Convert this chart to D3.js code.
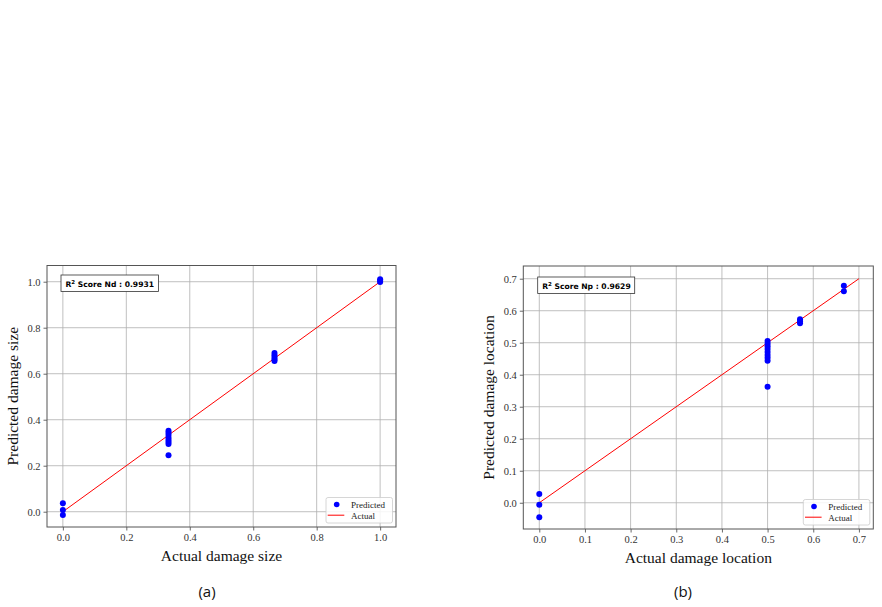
<!DOCTYPE html>
<html>
<head>
<meta charset="utf-8">
<script src="https://cdn.jsdelivr.net/npm/d3@7"></script>
<style>
  body { margin: 0; background: #fff; }
  svg { display: block; }
</style>
</head>
<body>
<div id="chart"></div>
<script>
// panel (a): damage size
var sizeActual = [0, 0, 0,
  0.333, 0.333, 0.333, 0.333, 0.333, 0.333, 0.333, 0.333,
  0.667, 0.667, 0.667, 0.667, 0.667,
  1, 1, 1]
var sizePred = [0.037, 0.007, -0.014,
  0.352, 0.343, 0.333, 0.322, 0.312, 0.303, 0.294, 0.245,
  0.69, 0.68, 0.67, 0.662, 0.655,
  1.011, 1.004, 0.999]
var sizeTicks = [0.0, 0.2, 0.4, 0.6, 0.8, 1.0]

// panel (b): damage location
var locActual = [0, 0, 0,
  0.5, 0.5, 0.5, 0.5, 0.5, 0.5, 0.5, 0.5, 0.5,
  0.571, 0.571, 0.571,
  0.667, 0.667]
var locPred = [0.027, -0.006, -0.045,
  0.505, 0.497, 0.489, 0.48, 0.471, 0.462, 0.453, 0.444, 0.3625,
  0.573, 0.567, 0.561,
  0.678, 0.661]
var locTicks = [0.0, 0.1, 0.2, 0.3, 0.4, 0.5, 0.6, 0.7]

var svg = d3.select("#chart").append("svg")
    .attr("width", 882)
    .attr("height", 607)

function panel(opt) {
    var xs = d3.scaleLinear().domain(opt.xdom).range([opt.left, opt.right])
    var ys = d3.scaleLinear().domain(opt.ydom).range([opt.bottom, opt.top])
    var g = svg.append("g")

    // grid
    g.selectAll(".gx").data(opt.ticks.filter(t => t <= opt.xdom[1])).enter().append("line")
        .attr("x1", d => xs(d)).attr("x2", d => xs(d))
        .attr("y1", opt.top).attr("y2", opt.bottom)
        .attr("stroke", "#b0b0b0").attr("stroke-width", 0.8)
    g.selectAll(".gy").data(opt.ticks.filter(t => t <= opt.ydom[1])).enter().append("line")
        .attr("y1", d => ys(d)).attr("y2", d => ys(d))
        .attr("x1", opt.left).attr("x2", opt.right)
        .attr("stroke", "#b0b0b0").attr("stroke-width", 0.8)

    // axes
    var xa = g.append("g").attr("transform", "translate(0," + opt.bottom + ")")
        .call(d3.axisBottom(xs).tickValues(opt.ticks.filter(t => t <= opt.xdom[1]))
            .tickFormat(d3.format(".1f")).tickSize(3.5).tickPadding(3))
    var ya = g.append("g").attr("transform", "translate(" + opt.left + ",0)")
        .call(d3.axisLeft(ys).tickValues(opt.ticks.filter(t => t <= opt.ydom[1]))
            .tickFormat(d3.format(".1f")).tickSize(3.5).tickPadding(3))
    ;[xa, ya].forEach(function(a) {
        a.select(".domain").remove()
        a.selectAll("line").attr("stroke", "#444").attr("stroke-width", 0.8)
        a.selectAll("text").attr("font-family", "Liberation Serif, serif")
            .attr("font-size", 10.5).attr("fill", "#333")
    })

    // frame
    g.append("rect")
        .attr("x", opt.left).attr("y", opt.top)
        .attr("width", opt.right - opt.left).attr("height", opt.bottom - opt.top)
        .attr("fill", "none").attr("stroke", "#555").attr("stroke-width", 1)

    // actual line
    g.append("line")
        .attr("x1", xs(0)).attr("y1", ys(0))
        .attr("x2", xs(opt.lineEnd)).attr("y2", ys(opt.lineEnd))
        .attr("stroke", "#ff0000").attr("stroke-width", 1)

    // predicted points
    g.selectAll(".dot").data(opt.actual).enter().append("circle")
        .attr("cx", d => xs(d))
        .attr("cy", (d, i) => ys(opt.pred[i]))
        .attr("r", 3)
        .attr("fill", "#0000ff")

    // score box
    var sb = g.append("g").attr("transform", "translate(" + opt.box[0] + "," + opt.box[1] + ")")
    sb.append("rect").attr("width", opt.box[2]).attr("height", 16.5)
        .attr("fill", "#fff").attr("stroke", "#333").attr("stroke-width", 0.8)
    var st = sb.append("text").attr("x", 4.5).attr("y", 11.5)
        .attr("font-family", "DejaVu Sans, sans-serif").attr("font-size", 7.6)
        .attr("font-weight", "bold").attr("fill", "#000")
    st.append("tspan").text("R")
    st.append("tspan").attr("dy", -3).attr("font-size", 5.5).text("2")
    st.append("tspan").attr("dy", 3).text(" Score " + opt.scoreName + " :  " + opt.score)

    // legend
    var lg = g.append("g").attr("transform", "translate(" + (opt.right - 70) + "," + (opt.bottom - 29.5) + ")")
    lg.append("rect").attr("width", 66.5).attr("height", 25.5).attr("rx", 2)
        .attr("fill", "#fff").attr("fill-opacity", 0.85).attr("stroke", "#ccc").attr("stroke-width", 0.8)
    lg.append("circle").attr("cx", 10.7).attr("cy", 7).attr("r", 2.8).attr("fill", "#0000ff")
    lg.append("line").attr("x1", 1.7).attr("x2", 18.3).attr("y1", 17.7).attr("y2", 17.7)
        .attr("stroke", "#ff0000").attr("stroke-width", 1)
    lg.selectAll(".lt").data(["Predicted", "Actual"]).enter().append("text")
        .attr("x", 25).attr("y", (d, i) => 10 + i * 11.5)
        .attr("font-family", "Liberation Serif, serif").attr("font-size", 9)
        .attr("fill", "#222").text(d => d)

    // axis labels
    svg.append("text")
        .attr("x", (opt.left + opt.right) / 2).attr("y", opt.bottom + 34)
        .attr("text-anchor", "middle")
        .attr("font-family", "Liberation Serif, serif").attr("font-size", 15.5)
        .attr("fill", "#111").text(opt.xlabel)
    svg.append("text")
        .attr("transform", "translate(" + opt.ylabelX + "," + ((opt.top + opt.bottom) / 2) + ") rotate(-90)")
        .attr("text-anchor", "middle")
        .attr("font-family", "Liberation Serif, serif").attr("font-size", 15.5)
        .attr("fill", "#111").text(opt.ylabel)

    // caption
    svg.append("text")
        .attr("x", opt.capX).attr("y", 597)
        .attr("text-anchor", "middle")
        .attr("font-family", "Open Sans, sans-serif").attr("font-size", 15)
        .attr("fill", "#111").text(opt.caption)
}

panel({
    actual: sizeActual, pred: sizePred, ticks: sizeTicks,
    xdom: [-0.05, 1.05], ydom: [-0.0665, 1.0705],
    left: 47, right: 396, top: 265.5, bottom: 527,
    lineEnd: 1,
    box: [61, 275, 97.5], scoreName: "Nd", score: "0.9931",
    xlabel: "Actual damage size", ylabel: "Predicted damage size",
    ylabelX: 18, capX: 207, caption: "(a)"
})

panel({
    actual: locActual, pred: locPred, ticks: locTicks,
    xdom: [-0.035, 0.7315], ydom: [-0.082, 0.7397],
    left: 523.3, right: 873.3, top: 266, bottom: 529,
    lineEnd: 0.7,
    box: [537.7, 277, 97], scoreName: "Np", score: "0.9629",
    xlabel: "Actual damage location", ylabel: "Predicted damage location",
    ylabelX: 494, capX: 683, caption: "(b)"
})
</script>
</body>
</html>
